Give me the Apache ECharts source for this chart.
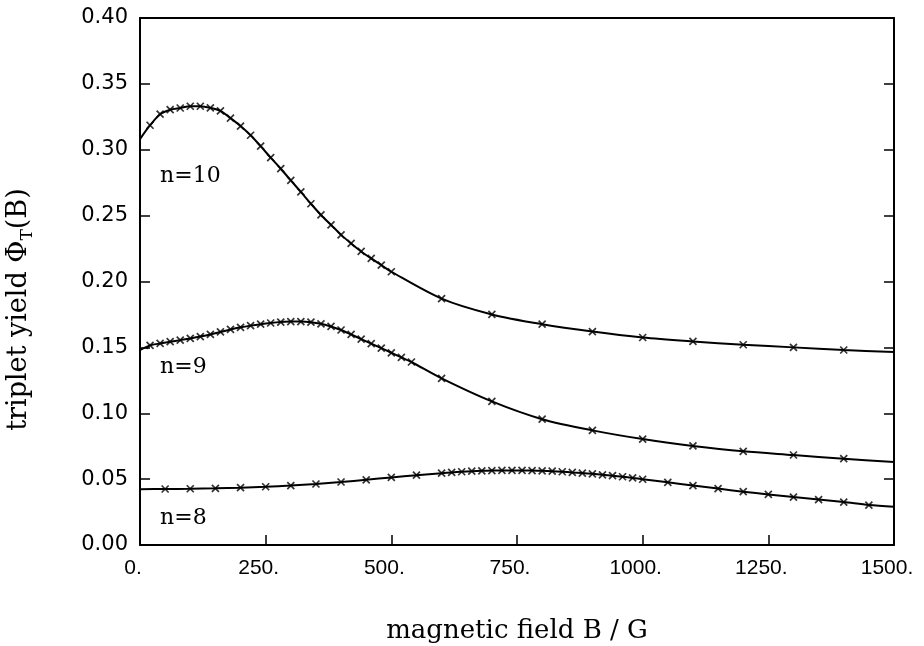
<!DOCTYPE html>
<html>
<head>
<meta charset="utf-8">
<title>triplet yield</title>
<script src="https://cdn.jsdelivr.net/npm/echarts@6/dist/echarts.min.js"></script>
<style>
  html, body { margin: 0; padding: 0; background: #fff; }
  #main { width: 924px; height: 646px; }
</style>
</head>
<body>
<div id="main"></div>
<script>
// magnetic field (G) of the x marks, and triplet yield there
const fieldN10 = [20, 40, 60, 80, 100, 120, 140, 160, 180, 200, 220, 240, 260, 280, 300,
  320, 340, 360, 380, 400, 420, 440, 460, 480, 500,
  600, 700, 800, 900, 1000, 1100, 1200, 1300, 1400];
const yieldN10 = [0.3186, 0.327, 0.3304, 0.3317, 0.333, 0.333, 0.3318, 0.3295, 0.324, 0.318,
  0.311, 0.3027, 0.294, 0.2856, 0.2767, 0.268, 0.259, 0.2505, 0.243, 0.2354,
  0.2289, 0.2228, 0.2175, 0.2125, 0.2074,
  0.187, 0.175, 0.1676, 0.162, 0.1575, 0.1545, 0.152, 0.150, 0.148];

const fieldN9 = [20, 40, 60, 80, 100, 120, 140, 160, 180, 200, 220, 240, 260, 280, 300,
  320, 340, 360, 380, 400, 420, 440, 460, 480, 500, 520, 540,
  600, 700, 800, 900, 1000, 1100, 1200, 1300, 1400];
const yieldN9 = [0.1515, 0.153, 0.1543, 0.1555, 0.1568, 0.1582, 0.1598, 0.1617, 0.1636, 0.1652,
  0.1665, 0.1676, 0.1685, 0.1692, 0.1696, 0.1696, 0.1691, 0.1679, 0.1659, 0.1632,
  0.1598, 0.1563, 0.1528, 0.1494, 0.1459, 0.1424, 0.1389,
  0.1265, 0.109, 0.0955, 0.087, 0.0804, 0.0752, 0.0711, 0.0683, 0.0655];

const fieldN8 = [50, 100, 150, 200, 250, 300, 350, 400, 450, 500, 550,
  600, 620, 640, 660, 680, 700, 720, 740, 760, 780, 800, 820, 840, 860, 880, 900,
  920, 940, 960, 980, 1000,
  1050, 1100, 1150, 1200, 1250, 1300, 1350, 1400, 1450];
const yieldN8 = [0.0425, 0.0427, 0.043, 0.0435, 0.0442, 0.0451, 0.0463, 0.0478, 0.0495, 0.0513, 0.053,
  0.0545, 0.0551, 0.0556, 0.056, 0.0563, 0.0565, 0.0566, 0.0566, 0.0566, 0.0565, 0.0563,
  0.056, 0.0556, 0.0551, 0.0546, 0.054, 0.0533, 0.0526, 0.0518, 0.0509, 0.0499,
  0.0476, 0.0451, 0.0428, 0.0405, 0.0384, 0.0364, 0.0345, 0.0326, 0.0303];

// curve values at the two edges, B = 0 and B = 1500
const edgeN10 = [0.308, 0.1465];
const edgeN9 = [0.148, 0.063];
const edgeN8 = [0.0424, 0.029];

const curveNames = ['n=10', 'n=9', 'n=8'];
const xTickLabels = ['0.', '250.', '500.', '750.', '1000.', '1250.', '1500.'];
const yTickLabels = ['0.00', '0.05', '0.10', '0.15', '0.20', '0.25', '0.30', '0.35', '0.40'];

const curves = [
  { field: fieldN10, val: yieldN10, edge: edgeN10, at: [40, 0.28] },
  { field: fieldN9, val: yieldN9, edge: edgeN9, at: [40, 0.135] },
  { field: fieldN8, val: yieldN8, edge: edgeN8, at: [40, 0.0205] }
];

const cross = 'path://M0,0L10,10M10,0L0,10';
const serif = '"DejaVu Serif", "Liberation Serif", serif';

var series = [];
curves.forEach(function (c, i) {
  var marks = c.field.map(function (b, k) { return [b, c.val[k]]; });
  var line = [[0, c.edge[0]]].concat(marks).concat([[1500, c.edge[1]]]);
  series.push({
    name: curveNames[i],
    type: 'line',
    data: line,
    smooth: 0.3,
    showSymbol: false,
    symbol: 'none',
    lineStyle: { color: '#000', width: 2 },
    markPoint: {
      symbol: 'circle',
      symbolSize: 0,
      label: {
        show: true,
        position: 'right',
        distance: 0,
        formatter: curveNames[i],
        color: '#000',
        fontFamily: serif,
        fontSize: 22
      },
      data: [{ coord: c.at }]
    },
    silent: true,
    z: 2
  });
  series.push({
    type: 'scatter',
    data: marks,
    symbol: cross,
    symbolSize: 7,
    itemStyle: { color: '#000', borderColor: '#000', borderWidth: 1.7 },
    silent: true,
    z: 3
  });
});

var tick = { show: true, inside: true, length: 10, lineStyle: { color: '#000', width: 1.5 } };
var frame = { show: true, onZero: false, lineStyle: { color: '#000', width: 2 } };

var chartDom = document.getElementById('main');
var myChart = echarts.init(chartDom);
var option = {
  backgroundColor: '#fff',
  animation: false,
  grid: { left: 140, right: 30, top: 18, bottom: 101, outerBoundsMode: 'none' },
  xAxis: [
    {
      type: 'value',
      position: 'bottom',
      min: 0,
      max: 1500,
      interval: 250,
      name: 'magnetic field B / G',
      nameLocation: 'middle',
      nameGap: 73,
      nameTextStyle: { color: '#000', fontFamily: serif, fontSize: 26 },
      axisLine: frame,
      axisTick: tick,
      axisLabel: {
        color: '#000',
        fontFamily: '"Liberation Sans", Arial, sans-serif',
        fontSize: 21,
        margin: 13,
        padding: [0, 14, 0, 0],
        formatter: function (v) { return xTickLabels[Math.round(v / 250)]; }
      },
      splitLine: { show: false }
    },
    {
      type: 'value',
      position: 'top',
      min: 0,
      max: 1500,
      axisLine: frame,
      axisTick: { show: false },
      axisLabel: { show: false },
      splitLine: { show: false }
    }
  ],
  yAxis: [
    {
      type: 'value',
      position: 'left',
      min: 0,
      max: 0.4,
      interval: 0.05,
      name: '{t|triplet yield Φ}{s|T}{t|(B)}',
      nameLocation: 'middle',
      nameGap: 104,
      nameRotate: 90,
      nameTextStyle: {
        padding: [0, 56, 0, 0],
        rich: {
          t: { color: '#000', fontFamily: serif, fontSize: 27 },
          s: { color: '#000', fontFamily: serif, fontSize: 17, padding: [17, 0, 0, 0] }
        }
      },
      axisLine: frame,
      axisTick: tick,
      axisLabel: {
        color: '#000',
        fontFamily: '"DejaVu Sans", sans-serif',
        fontSize: 21,
        margin: 12,
        formatter: function (v) { return yTickLabels[Math.round(v / 0.05)]; }
      },
      splitLine: { show: false }
    },
    {
      type: 'value',
      position: 'right',
      min: 0,
      max: 0.4,
      interval: 0.05,
      axisLine: frame,
      axisTick: tick,
      axisLabel: { show: false },
      splitLine: { show: false }
    }
  ],
  series: series
};
option && myChart.setOption(option);
</script>
</body>
</html>
